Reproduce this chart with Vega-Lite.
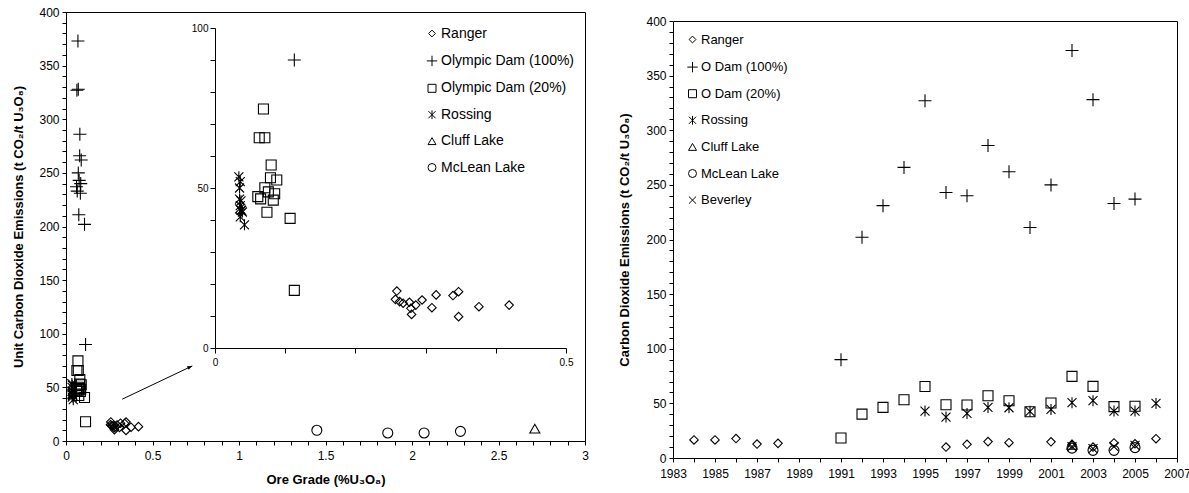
{
 "$schema": "https://vega.github.io/schema/vega-lite/v6.json",
 "padding": {"left": 12, "top": 5, "right": 5, "bottom": 0},
 "datasets": {
  "left": [
   {"mine":"Ranger","grade":0.259,"co2":17.8},
   {"mine":"Ranger","grade":0.257,"co2":15.2},
   {"mine":"Ranger","grade":0.263,"co2":14.5},
   {"mine":"Ranger","grade":0.268,"co2":14.0},
   {"mine":"Ranger","grade":0.277,"co2":14.3},
   {"mine":"Ranger","grade":0.279,"co2":12.4},
   {"mine":"Ranger","grade":0.280,"co2":10.5},
   {"mine":"Ranger","grade":0.286,"co2":13.4},
   {"mine":"Ranger","grade":0.295,"co2":15.0},
   {"mine":"Ranger","grade":0.315,"co2":16.6},
   {"mine":"Ranger","grade":0.309,"co2":12.6},
   {"mine":"Ranger","grade":0.339,"co2":16.4},
   {"mine":"Ranger","grade":0.347,"co2":17.6},
   {"mine":"Ranger","grade":0.347,"co2":9.8},
   {"mine":"Ranger","grade":0.376,"co2":12.9},
   {"mine":"Ranger","grade":0.419,"co2":13.4},
   {"mine":"Olympic Dam (100%)","grade":0.113,"co2":90},
   {"mine":"Olympic Dam (100%)","grade":0.107,"co2":202},
   {"mine":"Olympic Dam (100%)","grade":0.083,"co2":231},
   {"mine":"Olympic Dam (100%)","grade":0.079,"co2":266},
   {"mine":"Olympic Dam (100%)","grade":0.063,"co2":327},
   {"mine":"Olympic Dam (100%)","grade":0.076,"co2":243},
   {"mine":"Olympic Dam (100%)","grade":0.085,"co2":240},
   {"mine":"Olympic Dam (100%)","grade":0.080,"co2":286},
   {"mine":"Olympic Dam (100%)","grade":0.088,"co2":262},
   {"mine":"Olympic Dam (100%)","grade":0.074,"co2":211},
   {"mine":"Olympic Dam (100%)","grade":0.071,"co2":250},
   {"mine":"Olympic Dam (100%)","grade":0.069,"co2":373},
   {"mine":"Olympic Dam (100%)","grade":0.071,"co2":328},
   {"mine":"Olympic Dam (100%)","grade":0.065,"co2":233},
   {"mine":"Olympic Dam (100%)","grade":0.061,"co2":237},
   {"mine":"Olympic Dam (20%)","grade":0.113,"co2":18.0},
   {"mine":"Olympic Dam (20%)","grade":0.107,"co2":40.5},
   {"mine":"Olympic Dam (20%)","grade":0.083,"co2":46.2},
   {"mine":"Olympic Dam (20%)","grade":0.079,"co2":53.2},
   {"mine":"Olympic Dam (20%)","grade":0.063,"co2":65.7},
   {"mine":"Olympic Dam (20%)","grade":0.076,"co2":48.8},
   {"mine":"Olympic Dam (20%)","grade":0.085,"co2":48.2},
   {"mine":"Olympic Dam (20%)","grade":0.080,"co2":57.2},
   {"mine":"Olympic Dam (20%)","grade":0.088,"co2":52.5},
   {"mine":"Olympic Dam (20%)","grade":0.074,"co2":42.4},
   {"mine":"Olympic Dam (20%)","grade":0.071,"co2":50.1},
   {"mine":"Olympic Dam (20%)","grade":0.069,"co2":74.7},
   {"mine":"Olympic Dam (20%)","grade":0.071,"co2":65.7},
   {"mine":"Olympic Dam (20%)","grade":0.065,"co2":46.6},
   {"mine":"Olympic Dam (20%)","grade":0.061,"co2":47.3},
   {"mine":"Rossing","grade":0.034,"co2":53.5},
   {"mine":"Rossing","grade":0.036,"co2":52.0},
   {"mine":"Rossing","grade":0.035,"co2":50.0},
   {"mine":"Rossing","grade":0.035,"co2":46.5},
   {"mine":"Rossing","grade":0.037,"co2":46.0},
   {"mine":"Rossing","grade":0.036,"co2":44.5},
   {"mine":"Rossing","grade":0.038,"co2":43.0},
   {"mine":"Rossing","grade":0.037,"co2":43.0},
   {"mine":"Rossing","grade":0.035,"co2":43.5},
   {"mine":"Rossing","grade":0.039,"co2":42.5},
   {"mine":"Rossing","grade":0.036,"co2":41.0},
   {"mine":"Rossing","grade":0.042,"co2":38.5},
   {"mine":"Cluff Lake","grade":2.71,"co2":11.5},
   {"mine":"McLean Lake","grade":1.45,"co2":10.0},
   {"mine":"McLean Lake","grade":1.86,"co2":7.5},
   {"mine":"McLean Lake","grade":2.07,"co2":7.5},
   {"mine":"McLean Lake","grade":2.28,"co2":9.0}
  ],
  "right": [
   {"mine":"Ranger","year":1984,"co2":16.5},
   {"mine":"Ranger","year":1985,"co2":16.5},
   {"mine":"Ranger","year":1986,"co2":17.8},
   {"mine":"Ranger","year":1987,"co2":12.8},
   {"mine":"Ranger","year":1988,"co2":13.4},
   {"mine":"Ranger","year":1996,"co2":10.0},
   {"mine":"Ranger","year":1997,"co2":12.5},
   {"mine":"Ranger","year":1998,"co2":15.0},
   {"mine":"Ranger","year":1999,"co2":14.0},
   {"mine":"Ranger","year":2001,"co2":14.8},
   {"mine":"Ranger","year":2002,"co2":12.5},
   {"mine":"Ranger","year":2003,"co2":10.0},
   {"mine":"Ranger","year":2004,"co2":13.8},
   {"mine":"Ranger","year":2005,"co2":13.0},
   {"mine":"Ranger","year":2006,"co2":17.7},
   {"mine":"O Dam (100%)","year":1991,"co2":90},
   {"mine":"O Dam (100%)","year":1992,"co2":202},
   {"mine":"O Dam (100%)","year":1993,"co2":231},
   {"mine":"O Dam (100%)","year":1994,"co2":266},
   {"mine":"O Dam (100%)","year":1995,"co2":327},
   {"mine":"O Dam (100%)","year":1996,"co2":243},
   {"mine":"O Dam (100%)","year":1997,"co2":240},
   {"mine":"O Dam (100%)","year":1998,"co2":286},
   {"mine":"O Dam (100%)","year":1999,"co2":262},
   {"mine":"O Dam (100%)","year":2000,"co2":211},
   {"mine":"O Dam (100%)","year":2001,"co2":250},
   {"mine":"O Dam (100%)","year":2002,"co2":373},
   {"mine":"O Dam (100%)","year":2003,"co2":328},
   {"mine":"O Dam (100%)","year":2004,"co2":233},
   {"mine":"O Dam (100%)","year":2005,"co2":237},
   {"mine":"O Dam (20%)","year":1991,"co2":18.3},
   {"mine":"O Dam (20%)","year":1992,"co2":40.2},
   {"mine":"O Dam (20%)","year":1993,"co2":46.3},
   {"mine":"O Dam (20%)","year":1994,"co2":53.3},
   {"mine":"O Dam (20%)","year":1995,"co2":65.5},
   {"mine":"O Dam (20%)","year":1996,"co2":48.8},
   {"mine":"O Dam (20%)","year":1997,"co2":48.5},
   {"mine":"O Dam (20%)","year":1998,"co2":57.0},
   {"mine":"O Dam (20%)","year":1999,"co2":52.4},
   {"mine":"O Dam (20%)","year":2000,"co2":42.4},
   {"mine":"O Dam (20%)","year":2001,"co2":50.4},
   {"mine":"O Dam (20%)","year":2002,"co2":74.7},
   {"mine":"O Dam (20%)","year":2003,"co2":65.6},
   {"mine":"O Dam (20%)","year":2004,"co2":47.0},
   {"mine":"O Dam (20%)","year":2005,"co2":47.4},
   {"mine":"Rossing","year":1995,"co2":43.0},
   {"mine":"Rossing","year":1996,"co2":37.5},
   {"mine":"Rossing","year":1997,"co2":40.8},
   {"mine":"Rossing","year":1998,"co2":46.3},
   {"mine":"Rossing","year":1999,"co2":46.0},
   {"mine":"Rossing","year":2000,"co2":42.7},
   {"mine":"Rossing","year":2001,"co2":44.5},
   {"mine":"Rossing","year":2002,"co2":50.6},
   {"mine":"Rossing","year":2003,"co2":52.5},
   {"mine":"Rossing","year":2004,"co2":43.0},
   {"mine":"Rossing","year":2005,"co2":43.0},
   {"mine":"Rossing","year":2006,"co2":50.0},
   {"mine":"Cluff Lake","year":2002,"co2":12.0},
   {"mine":"McLean Lake","year":2002,"co2":9.0},
   {"mine":"McLean Lake","year":2003,"co2":7.0},
   {"mine":"McLean Lake","year":2004,"co2":7.0},
   {"mine":"McLean Lake","year":2005,"co2":9.5},
   {"mine":"Beverley","year":2002,"co2":10.5},
   {"mine":"Beverley","year":2003,"co2":8.5},
   {"mine":"Beverley","year":2004,"co2":10.5},
   {"mine":"Beverley","year":2005,"co2":11.5}
  ],
  "arrow": [
   {"x":0.325,"y":39,"x2":0.73,"y2":70}
  ]
 },
 "hconcat": [
  {
   "width": 519,
   "height": 429,
   "layer": [
    {
     "data": {"name": "left"},
     "mark": {"type": "point", "filled": false, "color": "black", "strokeWidth": 1.1, "size": 100, "opacity": 1},
     "encoding": {
      "x": {"field": "grade", "type": "quantitative",
       "scale": {"domain": [0, 3], "nice": false, "zero": false},
       "axis": {"orient": "bottom", "title": "Ore Grade (%U₃O₈)", "titlePadding": 12, "labelPadding": 5, "labelOverlap": false, "labelBound": false,
        "values": [0,0.1,0.2,0.3,0.4,0.5,0.6,0.7,0.8,0.9,1,1.1,1.2,1.3,1.4,1.5,1.6,1.7,1.8,1.9,2,2.1,2.2,2.3,2.4,2.5,2.6,2.7,2.8,2.9,3],
        "format": "~g",
        "labelExpr": "abs(datum.value*2 - round(datum.value*2)) < 0.001 ? datum.label : ''"}},
      "y": {"field": "co2", "type": "quantitative",
       "scale": {"domain": [0, 400], "nice": false},
       "axis": {"orient": "left", "title": "Unit Carbon Dioxide Emissions (t CO₂/t U₃O₈)", "titlePadding": 13, "labelOverlap": false, "labelBound": false,
        "values": [0,10,20,30,40,50,60,70,80,90,100,110,120,130,140,150,160,170,180,190,200,210,220,230,240,250,260,270,280,290,300,310,320,330,340,350,360,370,380,390,400],
        "labelExpr": "datum.value % 50 === 0 ? datum.label : ''"}},
      "shape": {"field": "mine", "type": "nominal",
       "scale": {"domain": ["Ranger","Olympic Dam (100%)","Olympic Dam (20%)","Rossing","Cluff Lake","McLean Lake"],
        "range": ["M-0.85,0L0,-0.85L0.85,0L0,0.85Z","M-1.3,0L1.3,0M0,-1.3L0,1.3","square","M-0.9,-0.9L0.9,0.9M-0.9,0.9L0.9,-0.9M0,-1.1L0,1.1","triangle-up","circle"]},
       "legend": {"orient": "none", "legendX": 359, "legendY": 14.5, "title": null, "labelFontSize": 14, "rowPadding": 12.4, "labelOffset": 2}}
     }
    },
    {
     "data": {"name": "arrow"},
     "mark": {"type": "rule", "color": "black", "strokeWidth": 1},
     "encoding": {
      "x": {"field": "x", "type": "quantitative", "scale": {"domain": [0, 3], "nice": false, "zero": false}, "axis": null},
      "y": {"field": "y", "type": "quantitative", "scale": {"domain": [0, 400], "nice": false}, "axis": null},
      "x2": {"field": "x2"},
      "y2": {"field": "y2"}
     }
    },
    {
     "data": {"name": "arrow"},
     "mark": {"type": "point", "shape": "M0,0L-2,-0.8L-2,0.8Z", "filled": true, "color": "black", "size": 25, "angle": -25, "opacity": 1},
     "encoding": {
      "x": {"field": "x2", "type": "quantitative", "scale": {"domain": [0, 3], "nice": false, "zero": false}, "axis": null},
      "y": {"field": "y2", "type": "quantitative", "scale": {"domain": [0, 400], "nice": false}, "axis": null}
     }
    },
    {
     "data": {"name": "left"},
     "transform": [{"filter": "datum.grade <= 0.5 && datum.co2 <= 100"}],
     "mark": {"type": "point", "filled": false, "color": "black", "strokeWidth": 1.1, "size": 100, "opacity": 1},
     "encoding": {
      "x": {"field": "grade", "type": "quantitative",
       "scale": {"domain": [0, 0.5], "range": [149, 500], "nice": false, "zero": false},
       "axis": {"orient": "bottom", "offset": -93, "title": null, "labelFontSize": 10, "tickSize": 5, "labelPadding": 4, "labelOverlap": false, "labelBound": false,
        "values": [0,0.1,0.2,0.3,0.4,0.5], "format": "~g",
        "labelExpr": "datum.value == 0 || datum.value == 0.5 ? datum.label : ''"}},
      "y": {"field": "co2", "type": "quantitative",
       "scale": {"domain": [0, 100], "range": [336, 16], "nice": false},
       "axis": {"orient": "left", "offset": -149, "title": null, "labelFontSize": 10, "tickSize": 5, "labelPadding": 2, "labelOverlap": false, "labelBound": false,
        "values": [0,10,20,30,40,50,60,70,80,90,100],
        "labelExpr": "datum.value % 50 === 0 ? datum.label : ''"}},
      "shape": {"field": "mine", "type": "nominal"}
     }
    }
   ],
   "resolve": {"scale": {"x": "independent", "y": "independent"}, "axis": {"x": "independent", "y": "independent"}}
  },
  {
   "width": 504,
   "height": 446,
   "view": {"stroke": null},
   "layer": [
    {
     "data": {"name": "right"},
     "mark": {"type": "point", "filled": false, "color": "black", "strokeWidth": 1.1, "size": 100, "opacity": 1},
     "encoding": {
      "x": {"field": "year", "type": "quantitative",
       "scale": {"domain": [1983, 2007], "nice": false, "zero": false},
       "axis": {"title": null, "format": "d", "labelPadding": 6, "labelOverlap": false, "labelBound": false,
        "values": [1983,1984,1985,1986,1987,1988,1989,1990,1991,1992,1993,1994,1995,1996,1997,1998,1999,2000,2001,2002,2003,2004,2005,2006,2007],
        "labelExpr": "datum.value % 2 === 1 ? datum.label : ''"}},
      "y": {"field": "co2", "type": "quantitative",
       "scale": {"domain": [0, 400], "range": [446, 9], "nice": false},
       "axis": {"title": "Carbon Dioxide Emissions (t CO₂/t U₃O₈)", "titlePadding": 14, "labelOverlap": false, "labelBound": false,
        "values": [0,10,20,30,40,50,60,70,80,90,100,110,120,130,140,150,160,170,180,190,200,210,220,230,240,250,260,270,280,290,300,310,320,330,340,350,360,370,380,390,400],
        "labelExpr": "datum.value % 50 === 0 ? datum.label : ''"}},
      "shape": {"field": "mine", "type": "nominal",
       "scale": {"domain": ["Ranger","O Dam (100%)","O Dam (20%)","Rossing","Cluff Lake","McLean Lake","Beverley"],
        "range": ["M-0.85,0L0,-0.85L0.85,0L0,0.85Z","M-1.3,0L1.3,0M0,-1.3L0,1.3","square","M-0.9,-0.9L0.9,0.9M-0.9,0.9L0.9,-0.9M0,-1.1L0,1.1","triangle-up","circle","M-0.9,-0.9L0.9,0.9M-0.9,0.9L0.9,-0.9"]},
       "legend": {"orient": "none", "legendX": 13, "legendY": 21, "title": null, "labelFontSize": 13, "rowPadding": 12.6, "labelOffset": 2}}
     }
    },
    {
     "data": {"name": "right"},
     "mark": {"type": "point", "opacity": 0},
     "encoding": {
      "x": {"field": "year", "type": "quantitative",
       "axis": {"orient": "top", "offset": -9, "labels": false, "ticks": false, "title": null, "domain": true}},
      "y": {"field": "co2", "type": "quantitative",
       "axis": {"orient": "right", "labels": false, "ticks": false, "title": null, "domain": true}}
     }
    }
   ],
   "resolve": {"axis": {"x": "independent", "y": "independent"}}
  }
 ],
 "spacing": 29,
 "resolve": {"scale": {"shape": "independent"}, "legend": {"shape": "independent"}},
 "config": {
  "font": "Liberation Sans",
  "view": {"stroke": "black", "strokeWidth": 1},
  "axis": {"grid": false, "domainColor": "black", "tickColor": "black", "labelColor": "black", "titleColor": "black",
   "labelFontSize": 12, "titleFontSize": 13, "titleFontWeight": "bold", "tickSize": 4, "labelPadding": 3,
   "labelOverlap": false, "labelFlush": false, "domainWidth": 1, "tickWidth": 1},
  "legend": {"labelFontSize": 13, "labelColor": "black", "symbolSize": 64, "symbolStrokeWidth": 1, "symbolStrokeColor": "black",
   "labelOffset": 3, "rowPadding": 13, "padding": 0, "labelLimit": 300}
 }
}
